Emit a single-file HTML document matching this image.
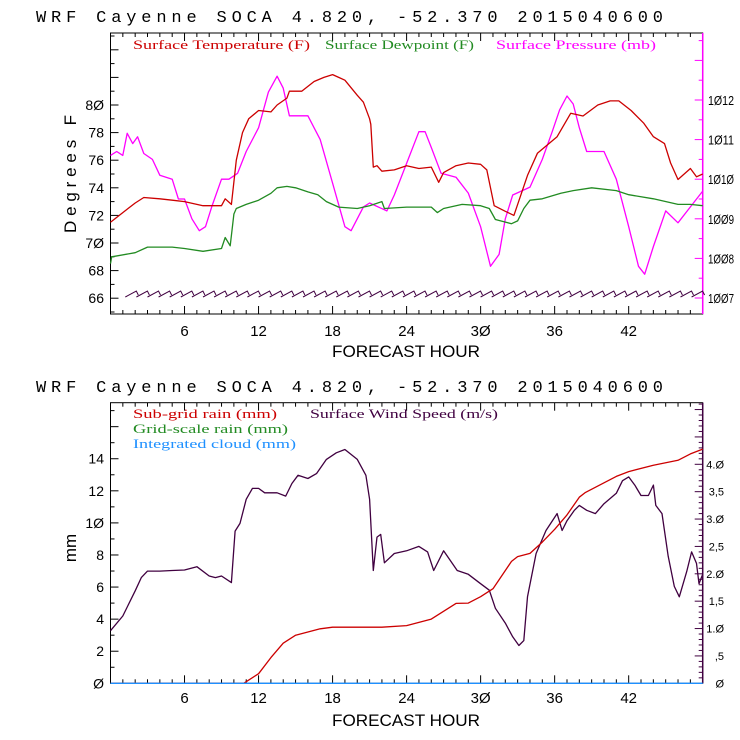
<!DOCTYPE html>
<html><head><meta charset="utf-8"><style>
html,body{margin:0;padding:0;background:#fff;}
svg{display:block;font-family:"Liberation Sans",sans-serif;}
</style></head><body>
<svg id="chart" width="740" height="740" viewBox="0 0 740 740"></svg>
<script>
// ---------- DATA ----------
const xTicks = [6,12,18,24,30,36,42];
const tempLeftTicks = [66,68,70,72,74,76,78,80];
const presTicks = [1007,1008,1009,1010,1011,1012];
const mmTicks = [0,2,4,6,8,10,12,14];
const windTicks = [0,0.5,1.0,1.5,2.0,2.5,3.0,3.5,4.0];
const windTickLabels = ["0",",5","1.0","1,5","2.0","2,5","3.0","3,5","4.0"];

const tempHours = [0,1,2,2.7,4,5,6,7.5,9,9.3,9.8,10.2,10.7,11.2,12,13,13.5,14.3,14.5,15.5,16.5,17.3,18,18.5,19,20,20.5,21,21.1,21.3,21.6,22,23,24,25,26,26.6,27,28,29,30,30.5,31.1,32,32.7,33.8,34.6,36.2,37.3,38.3,39.5,40.5,41.2,42.2,43.2,44,44.9,45.4,46,47,47.5,48];
const tempValues = [71.5,72.2,72.9,73.3,73.2,73.1,73.0,72.7,72.7,73.2,72.8,76.0,78.0,79.0,79.6,79.5,80.0,80.5,81.0,81.0,81.7,82.0,82.2,82.0,81.8,80.7,80.2,79.0,78.6,75.5,75.6,75.2,75.3,75.6,75.4,75.5,74.4,75.1,75.6,75.8,75.7,75.3,72.7,72.3,72.0,74.9,76.5,77.7,79.4,79.2,80.0,80.3,80.3,79.6,78.7,77.7,77.2,75.8,74.6,75.4,74.8,75.0];

const dewHours = [0,0.1,2,3,5,6,7.5,9,9.3,9.7,10,10.2,11,12,13,13.5,14.3,15,16,16.8,17.5,18.5,20,21,22,22.2,24,26,26.5,27,28.5,30,30.7,31.2,32.5,33,33.5,34,35,36.5,37.5,39,41,42,44,46,47,48];
const dewValues = [68.5,69.0,69.3,69.7,69.7,69.6,69.4,69.6,70.4,69.8,72.1,72.5,72.8,73.1,73.6,74.0,74.1,74.0,73.7,73.5,73.0,72.6,72.5,72.7,73.0,72.5,72.6,72.6,72.2,72.5,72.8,72.7,72.5,71.7,71.4,71.6,72.5,73.1,73.2,73.6,73.8,74.0,73.8,73.5,73.2,72.8,72.8,72.7];

const presHours = [0,0.5,1,1.35,1.8,2.2,2.7,3.4,4,5,5.5,6,6.6,7.2,7.7,8.2,9,9.6,10.3,11,12,12.8,13.5,14,14.5,15,16,17,18,19,19.5,20.5,21,22.4,23,24,25,25.5,26,26.8,28,29,30,30.8,31.5,32,32.6,33.3,34,35,35.8,36.4,37,37.5,38,38.6,40,41,42,42.8,43.3,44,45,46,47,48];
const presValues = [1010.6,1010.7,1010.6,1011.16,1010.9,1011.07,1010.65,1010.5,1010.1,1010.0,1009.5,1009.5,1009.0,1008.7,1008.8,1009.3,1010.0,1010.0,1010.15,1010.7,1011.3,1012.2,1012.6,1012.3,1011.6,1011.6,1011.6,1011.0,1009.9,1008.8,1008.7,1009.3,1009.4,1009.2,1009.6,1010.4,1011.2,1011.2,1010.8,1010.15,1010.05,1009.65,1008.8,1007.8,1008.1,1009.0,1009.6,1009.7,1009.8,1010.5,1011.2,1011.75,1012.1,1011.9,1011.3,1010.7,1010.7,1010.0,1008.8,1007.8,1007.6,1008.3,1009.2,1008.9,1009.3,1009.7];

const windHours = [0,1,2,2.5,3,4,5,6,7,8,8.5,9,9.8,10.1,10.5,11,11.5,12,12.5,13.5,14.2,14.7,15.2,16,16.7,17.5,18.3,19,20,20.7,21,21.3,21.6,21.9,22.2,23,24,25,25.7,26.2,27,28.1,29,30,30.7,31.2,32,32.6,33.1,33.5,33.8,34.5,35.3,36.2,36.6,37,37.6,38,38.6,39.3,40,41,41.5,42,42.5,43,43.6,44,44.2,44.7,45.2,45.7,46.1,46.7,47.1,47.5,47.7,48];
const windValues = [0.96,1.23,1.69,1.93,2.05,2.05,2.06,2.07,2.13,1.96,1.93,1.96,1.84,2.78,2.92,3.36,3.56,3.56,3.48,3.48,3.42,3.65,3.80,3.74,3.83,4.09,4.21,4.27,4.09,3.80,3.36,2.06,2.67,2.72,2.20,2.37,2.42,2.50,2.40,2.06,2.42,2.06,1.99,1.82,1.70,1.37,1.10,0.85,0.69,0.78,1.58,2.37,2.79,3.10,2.79,2.97,3.16,3.25,3.16,3.10,3.28,3.47,3.70,3.77,3.62,3.43,3.43,3.62,3.25,3.10,2.32,1.77,1.58,2.04,2.40,2.19,1.82,1.99];

const rainHours = [0,10.8,12,13,14,15,16,17,18,22,24,26,28,29,30,31,31.8,32.5,33,34,35,36,37,38,38.5,40,41,42,44,46,47,48];
const rainValues = [0,0,0.6,1.6,2.5,3.0,3.2,3.4,3.5,3.5,3.6,4.0,4.98,5.0,5.4,5.9,6.8,7.6,7.9,8.1,8.8,9.6,10.5,11.6,11.9,12.5,12.9,13.2,13.6,13.9,14.3,14.6];
const cloudHours = [0,48];
const cloudValues = [0,0];

const barbHours = [1.2,2.1,3.0,3.9,4.8,5.7,6.6,7.5,8.4,9.3,10.2,11.1,12.0,12.9,13.8,14.7,15.6,16.5,17.4,18.3,19.2,20.1,21.0,21.9,22.8,23.7,24.6,25.5,26.4,27.3,28.2,29.1,30.0,30.9,31.8,32.7,33.6,34.5,35.4,36.3,37.2,38.1,39.0,39.9,40.8,41.7,42.6,43.5,44.4,45.3,46.2,47.1];

// ---------- HELPERS ----------
const NS = "http://www.w3.org/2000/svg";
const svg = document.getElementById('chart');
function mk(tag, attrs, parent){const e=document.createElementNS(NS,tag);for(const k in attrs)e.setAttribute(k,attrs[k]);(parent||svg).appendChild(e);return e;}

const X0=110.5, X1=702.7;
const xs = h => X0 + (h/48)*(X1-X0);
const T0=33, T1=314;
const yT = v => 105 + (80-v)*13.8;
const yP = v => 100 + (1012-v)*39.6;
const B0=402.7, B1=683.3;
const yMM = v => 683.3 - v*16.04;
const yW = v => 683.3 - v*54.75;

function text(str, x, y, size, fill, anchor, family, len, name, extra){
  const t = mk('text',{x:x,y:y,'font-size':size,fill:fill,'text-anchor':anchor||'start','font-family':family||'"Liberation Sans",sans-serif'});
  if(len){t.setAttribute('textLength',len);t.setAttribute('lengthAdjust','spacingAndGlyphs');}
  if(extra){for(const k in extra)t.setAttribute(k,extra[k]);}
  t.textContent=str;
  
  
  return t;
}
function line(x1,y1,x2,y2,stroke,w,name){
  const l=mk('line',{x1:x1,y1:y1,x2:x2,y2:y2,stroke:stroke,'stroke-width':w||1});
  
  
  return l;
}
function series(hours, vals, yf, color, name){
  const pts = hours.map((h,i)=>xs(h).toFixed(1)+','+yf(vals[i]).toFixed(1)).join(' ');
  const p = mk('polyline',{points:pts,fill:'none',stroke:color,'stroke-width':1.3,'stroke-linejoin':'round'});
  
  
  return p;
}

// ---------- TITLES ----------
text('WRF  Cayenne SOCA   4.820, -52.370  2015040600',36,22,17,'#000','start','"Liberation Mono",monospace',627,'top-title',{lengthAdjust:'spacing'});
text('WRF  Cayenne SOCA   4.820, -52.370  2015040600',36,392,17,'#000','start','"Liberation Mono",monospace',627,'bottom-title',{lengthAdjust:'spacing'});

// ---------- TOP FRAME ----------
const fr1 = mk('rect',{x:X0,y:T0,width:X1-X0,height:T1-T0,fill:'none',stroke:'#000','stroke-width':1});


line(X1,T0,X1,T1,'#ff00ff',1.5,'top-right-axis');
for(let h=1;h<48;h++){
  const major = h%6===0; const L = major?8:4;
  line(xs(h),T1,xs(h),T1-L,'#000',1,'top-x-tick');
  line(xs(h),T0,xs(h),T0+L,'#000',1,'top-x-tick-top');
}
xTicks.forEach(h=>{ text(String(h).replace(/0/g,'\u00d8'),xs(h),336,15,'#000','middle',null,null,'top-x-tick-label'); });
for(let v=65;v<=85;v++){
  const y=yT(v); if(y<T0||y>T1) continue;
  const L = v%2===0?8:4;
  line(X0,y,X0+L,y,'#000',1,'top-left-tick');
}
tempLeftTicks.forEach(v=>{ text(String(v).replace(/0/g,'\u00d8'),104,yT(v)+5,14,'#000','end',null,null,'top-left-tick-label'); });
for(let v=1006.5;v<=1013.5;v+=0.5){
  const y=yP(v); if(y<T0||y>T1) continue;
  const L = (v%1===0)?8:4;
  line(X1,y,X1-L,y,'#ff00ff',1,'top-right-tick');
}
presTicks.forEach(v=>{ text(String(v).replace(/0/g,'\u00d8'),708,yP(v)+5,13,'#000','start',null,26,'top-right-tick-label'); });
text('Degrees F',0,0,17,'#000','middle',null,118,'top-y-axis-title',{transform:'translate(76,174) rotate(-90)',lengthAdjust:'spacing'});
text('FORECAST HOUR',406,357,17,'#000','middle',null,148,'top-x-axis-title');

text('Surface Temperature (F)',133,49,13,'#cc0000','start','"Liberation Serif",serif',177,'legend-temperature');
text('Surface Dewpoint (F)',325,49,13,'#228b22','start','"Liberation Serif",serif',149,'legend-dewpoint');
text('Surface Pressure (mb)',496,49,13,'#ff00ff','start','"Liberation Serif",serif',160,'legend-pressure');

series(presHours,presValues,yP,'#ff00ff','pressure-line');
series(dewHours,dewValues,yT,'#228b22','dewpoint-line');
series(tempHours,tempValues,yT,'#cc0000','temperature-line');

barbHours.forEach(h=>{
  const x=xs(h), y=294;
  const b=mk('path',{d:`M${x.toFixed(1)},${y+3} L${(x+11).toFixed(1)},${y-3} L${(x+13).toFixed(1)},${y+1}`,fill:'none',stroke:'#400040','stroke-width':1});
  
  
});

// ---------- BOTTOM FRAME ----------
const fr2 = mk('rect',{x:X0,y:B0,width:X1-X0,height:B1-B0,fill:'none',stroke:'#000','stroke-width':1});


line(X1,B0,X1,B1,'#400040',1.5,'bottom-right-axis');
for(let h=1;h<48;h++){
  const major = h%6===0; const L = major?8:4;
  line(xs(h),B1,xs(h),B1-L,'#000',1,'bottom-x-tick');
  line(xs(h),B0,xs(h),B0+L,'#000',1,'bottom-x-tick-top');
}
xTicks.forEach(h=>{ text(String(h).replace(/0/g,'\u00d8'),xs(h),703,15,'#000','middle',null,null,'bottom-x-tick-label'); });
for(let v=1;v<=17;v++){
  const L = v%2===0?8:4;
  line(X0,yMM(v),X0+L,yMM(v),'#000',1,'bottom-left-tick');
}
mmTicks.forEach(v=>{ text(String(v).replace(/0/g,'\u00d8'),104,yMM(v)+5,14,'#000','end',null,null,'bottom-left-tick-label'); });
for(let k=1;k<=51;k++){
  const v=k*0.1; const y=yW(v); if(y<B0) continue;
  const L = (k%5===0)?8:4;
  line(X1,y,X1-L,y,'#400040',1,'bottom-right-tick');
}
windTicks.forEach((v,i)=>{ text(windTickLabels[i].replace(/0/g,'\u00d8'),724,yW(v)+4,11,'#000','end',null,null,'bottom-right-tick-label'); });
text('mm',0,0,17,'#000','middle',null,null,'bottom-y-axis-title',{transform:'translate(76,548) rotate(-90)'});
text('FORECAST HOUR',406,726,17,'#000','middle',null,148,'bottom-x-axis-title');

text('Sub-grid rain (mm)',133,418,13,'#cc0000','start','"Liberation Serif",serif',144,'legend-subgrid-rain');
text('Grid-scale rain (mm)',133,433,13,'#228b22','start','"Liberation Serif",serif',155,'legend-gridscale-rain');
text('Integrated cloud (mm)',133,448,13,'#1e90ff','start','"Liberation Serif",serif',163,'legend-integrated-cloud');
text('Surface Wind Speed (m/s)',310,418,13,'#400040','start','"Liberation Serif",serif',188,'legend-wind-speed');

series(windHours,windValues,yW,'#400040','wind-speed-line');
series(rainHours,rainValues,yMM,'#cc0000','subgrid-rain-line');
series(cloudHours,cloudValues,yMM,'#1e90ff','integrated-cloud-line');
</script>
</body></html>
